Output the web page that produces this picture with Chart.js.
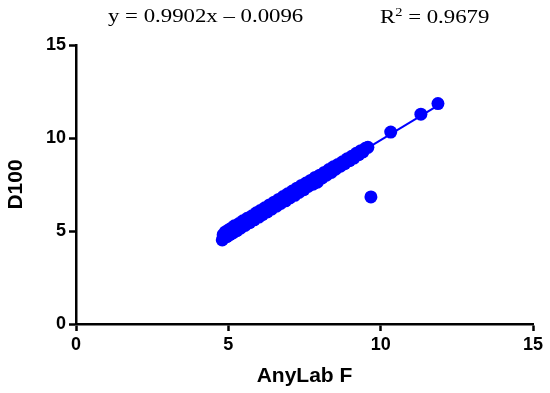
<!DOCTYPE html>
<html>
<head>
<meta charset="utf-8">
<script src="https://cdn.jsdelivr.net/npm/chart.js@4/dist/chart.umd.min.js"></script>
<style>
    body { margin: 0; background: #fff; }
    #wrap { position: relative; width: 550px; height: 393px; }
    .eq { position: absolute; top: 5px; font-family: 'Liberation Serif', 'Times New Roman', serif; font-size: 19px; color: #000; transform-origin: left top; transform: scaleX(1.2); white-space: nowrap; }
</style>
</head>
<body>
<div id="wrap">
    <canvas id="scatterChart" width="550" height="393"></canvas>
    <div class="eq" style="left:108px;">y = 0.9902x – 0.0096</div>
    <div class="eq" style="left:380px;">R<sup style="font-size:12px;">2</sup> = 0.9679</div>
</div>
<script>
var anyLabF = [4.80, 4.83, 4.85, 4.90, 4.95, 5.00, 5.05, 5.10, 5.15, 5.20, 5.28, 5.35, 5.40, 5.48, 5.55, 5.62, 5.70, 5.78, 5.85, 5.92,
    6.00, 6.05, 6.12, 6.20, 6.28, 6.35, 6.42, 6.50, 6.58, 6.65, 6.72, 6.80, 6.88, 6.95, 7.02, 7.10, 7.18, 7.25, 7.32, 7.40,
    7.48, 7.55, 7.62, 7.70, 7.78, 7.85, 7.92, 8.00, 8.08, 8.15, 8.22, 8.30, 8.38, 8.45, 8.52, 8.60, 8.68, 8.75, 8.82, 8.90,
    8.98, 9.05, 9.12, 9.20, 9.28, 9.35, 9.42, 9.50, 9.58, 10.33, 11.32, 11.88, 9.68];
var d100 = [4.52, 4.80, 4.62, 4.95, 4.70, 5.05, 4.80, 5.15, 4.90, 5.28, 5.02, 5.40, 5.15, 5.55, 5.30, 5.68, 5.45, 5.82, 5.60, 5.98,
    5.75, 6.10, 5.88, 6.25, 6.02, 6.40, 6.18, 6.55, 6.33, 6.70, 6.48, 6.85, 6.62, 7.00, 6.78, 7.15, 6.92, 7.30, 7.08, 7.45,
    7.22, 7.58, 7.40, 7.72, 7.52, 7.88, 7.62, 8.00, 7.85, 8.15, 8.00, 8.30, 8.15, 8.45, 8.32, 8.58, 8.48, 8.72, 8.62, 8.88,
    8.78, 9.02, 8.92, 9.18, 9.10, 9.32, 9.25, 9.45, 9.50, 10.32, 11.28, 11.85, 6.83];

// ends of the fitted line
var fitX = [4.8, 11.9];
var fitY = [4.74, 11.77];

var tickValues = [0, 5, 10, 15];

var points = anyLabF.map(function (x, i) { return { x: x, y: d100[i] }; });
var fitLine = fitX.map(function (x, i) { return { x: x, y: fitY[i] }; });

var ctx = document.getElementById('scatterChart').getContext('2d');
var tickFont = { family: 'Liberation Sans, Arial, sans-serif', size: 18, weight: 'bold' };
var titleFont = { family: 'Liberation Sans, Arial, sans-serif', size: 21, weight: 'bold' };

new Chart(ctx, {
    type: 'scatter',
    data: {
        datasets: [{
            label: 'fit',
            type: 'line',
            data: fitLine,
            borderColor: '#0000ff',
            borderWidth: 2,
            pointRadius: 0,
            fill: false
        }, {
            label: 'D100',
            data: points,
            backgroundColor: '#0000ff',
            borderColor: '#0000ff',
            borderWidth: 0,
            pointRadius: 6.5
        }]
    },
    options: {
        responsive: false,
        animation: false,
        layout: { padding: { top: 45, right: 17, left: 0, bottom: 0 } },
        plugins: {
            legend: { display: false },
            tooltip: { enabled: false }
        },
        scales: {
            x: {
                type: 'linear',
                min: 0,
                max: 15,
                afterBuildTicks: function (axis) { axis.ticks = tickValues.map(function (v) { return { value: v }; }); },
                afterFit: function (axis) { axis.height = 69; },
                grid: { drawOnChartArea: false, tickLength: 7, tickColor: '#000', tickWidth: 2.5 },
                border: { color: '#000', width: 2.5 },
                ticks: { color: '#000', font: tickFont, padding: 3, maxRotation: 0 },
                title: { display: true, text: 'AnyLab F', color: '#000', font: titleFont, padding: { top: 3 } }
            },
            y: {
                type: 'linear',
                min: 0,
                max: 15,
                afterBuildTicks: function (axis) { axis.ticks = tickValues.map(function (v) { return { value: v }; }); },
                afterFit: function (axis) { axis.width = 76; },
                grid: { drawOnChartArea: false, tickLength: 7, tickColor: '#000', tickWidth: 2.5 },
                border: { color: '#000', width: 2.5 },
                ticks: { color: '#000', font: tickFont, padding: 3 },
                title: { display: true, text: 'D100', color: '#000', font: titleFont, padding: { bottom: 0 } }
            }
        }
    }
});
</script>
</body>
</html>
